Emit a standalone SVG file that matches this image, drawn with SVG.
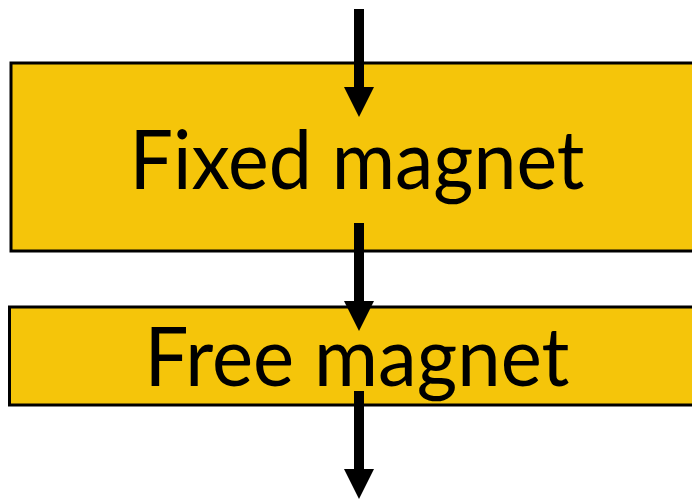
<svg xmlns="http://www.w3.org/2000/svg" width="692" height="500" viewBox="0 0 692 500">
<style>
.box{fill:#F5C50A;stroke:#000;stroke-width:3}
.lbl{font-family:"Lato","Liberation Sans",sans-serif;font-size:81px;fill:#000;text-anchor:middle}
.conn{stroke:#000;stroke-width:10;fill:none}
</style>
<g id="fixed-magnet">
<rect class="box" x="11" y="63" width="690" height="188"/>
<text class="lbl" x="357" y="189" textLength="455" lengthAdjust="spacingAndGlyphs">Fixed magnet</text>
</g>
<g id="free-magnet">
<rect class="box" x="9.5" y="307" width="690" height="98"/>
<text class="lbl" x="357" y="386" textLength="425" lengthAdjust="spacingAndGlyphs">Free magnet</text>
</g>
<g id="connectors">
<path class="conn" d="M359,9 V90"/>
<path d="M344,87 L374,87 L359,117 Z"/>
<path class="conn" d="M359,223 V304"/>
<path d="M344,301 L374,301 L359,331 Z"/>
<path class="conn" d="M359,391 V472"/>
<path d="M344,469 L374,469 L359,499 Z"/>
</g>
</svg>
